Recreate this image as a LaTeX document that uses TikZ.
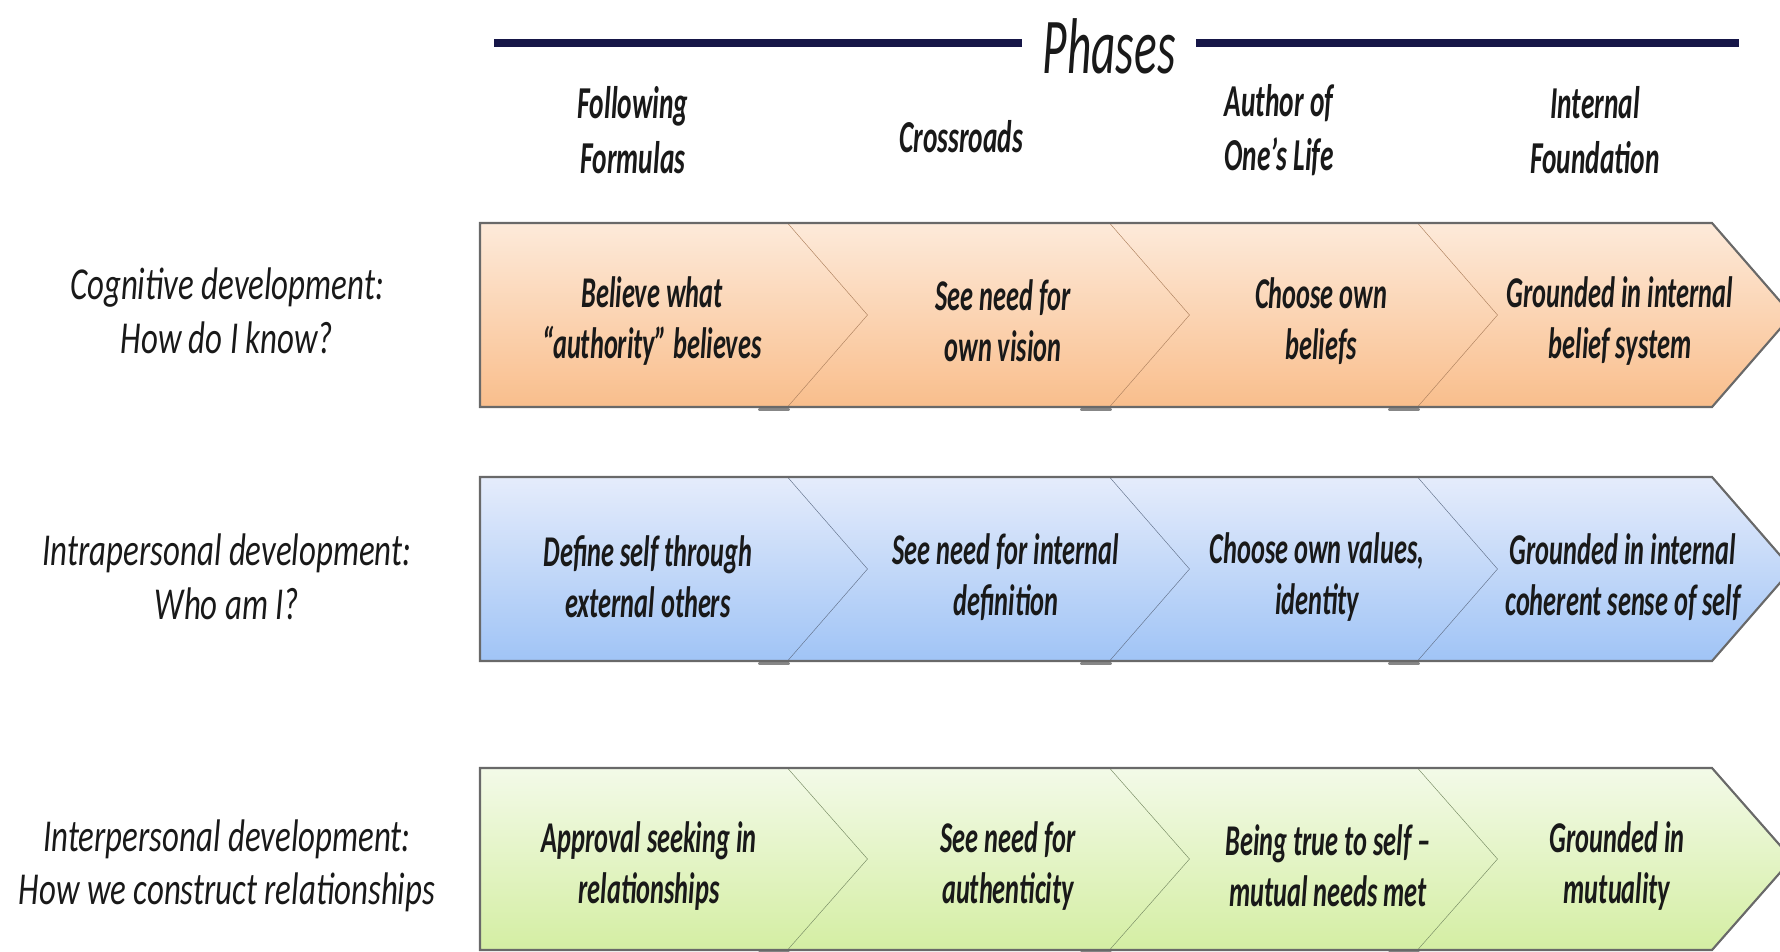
\documentclass[tikz,border=0pt]{standalone}
\usepackage{fontspec}
\usepackage{tikz}
\usetikzlibrary{positioning}
\setmainfont{Carlito}
\newfontfamily\phfont[FakeStretch=0.6]{Carlito}
\newfontfamily\lbfont[FakeStretch=0.72]{Carlito}
\definecolor{phnavy}{RGB}{22,22,72}
\definecolor{phtext}{RGB}{25,25,25}
\definecolor{phedge}{RGB}{105,105,105}
\definecolor{phorangetop}{RGB}{253,234,218}
\definecolor{phorangebot}{RGB}{249,190,140}
\definecolor{phorangeline}{RGB}{175,130,95}
\definecolor{phbluetop}{RGB}{229,236,251}
\definecolor{phbluebot}{RGB}{160,196,246}
\definecolor{phblueline}{RGB}{100,115,140}
\definecolor{phgreentop}{RGB}{243,250,232}
\definecolor{phgreenbot}{RGB}{212,238,163}
\definecolor{phgreenline}{RGB}{120,140,100}
\tikzset{
  phtitle/.style={font=\phfont\itshape\fontsize{45}{49}\selectfont, text=phtext, inner sep=0pt, inner xsep=.4cm},
  phhead/.style={font=\phfont\bfseries\itshape\fontsize{26}{31}\selectfont, text=phtext, align=center, inner sep=0pt},
  phcell/.style={font=\phfont\bfseries\itshape\fontsize{25}{29}\selectfont, text=phtext, align=center, inner sep=0pt},
  phlabel/.style={font=\lbfont\itshape\fontsize{26}{30.5}\selectfont, text=phtext, align=center, inner sep=0pt},
  phrule/.style={line width=4.4pt, draw=phnavy},
  phedgeline/.style={line width=1.2pt, draw=phedge, line join=miter},
  phshadow/.style={line width=2.2pt, draw=phedge!80, line cap=round}
}

\begin{document}
\begin{tikzpicture}[x=.02cm, y=-.02cm]
  \useasboundingbox (0,0) rectangle (1780,951);
  \clip (0,0) rectangle (1780,951);
  \node[phtitle] (phases) at (1109,46) {Phases};
  \coordinate (ruleL) at (494,43);
  \coordinate (ruleR) at (1739,43);
  \draw[phrule] (ruleL) -- (ruleL -| phases.west);
  \draw[phrule] (ruleR -| phases.east) -- (ruleR);
  \node[phhead] (follow) at (633,130) {Following\\Formulas};
  \node[phhead] (cross) at (961,137) {Crossroads};
  \node[phhead] (author) at (1279,130) {Author of\\One’s Life};
  \node[phhead] (found) at (1595,130) {Internal\\Foundation};
  \foreach \T/\B/\c in {223/407/orange, 477/661/blue, 768/950/green} {
    \pgfmathsetmacro\M{(\T+\B)/2}
    \foreach \xa/\xb/\n in {480/788/0, 788/1110/80, 1110/1418/80, 1418/1712/80} {
      \shade[top color=ph\c top, bottom color=ph\c bot]
        (\xa,\T) -- (\xb,\T) -- ({\xb+80},\M) -- (\xb,\B) -- (\xa,\B) -- ({\xa+\n},\M) -- cycle;
      \draw[line width=.7pt, draw=ph\c line] (\xb,\T) -- ({\xb+80},\M) -- (\xb,\B);
    }
    \foreach \xb in {788,1110,1418}
      \draw[phshadow] ({\xb-28},{\B+2.5}) -- (\xb,{\B+2.5});
    \draw[phedgeline] (480,\T) -- (1712,\T) -- (1792,\M) -- (1712,\B) -- (480,\B) -- cycle;
  }
  \node[phlabel] (cogLab) at (227,311) {Cognitive development:\\How do I know?};
  \node[phlabel] (intraLab) at (227,577) {Intrapersonal development:\\Who am I?};
  \node[phlabel] (interLab) at (227,866) {Interpersonal development:\\How we construct relationships};
  \node[phcell] (cog1) at (652,321) {Believe what\\“authority” believes};
  \node[phcell] (cog2) at (1003,321) {See need for\\own vision};
  \node[phcell] (cog3) at (1321,321) {Choose own\\beliefs};
  \node[phcell] (cog4) at (1620,321) {Grounded in internal\\belief system};
  \node[phcell] (intra1) at (648,577) {Define self through\\external others};
  \node[phcell] (intra2) at (1006,577) {See need for internal\\definition};
  \node[phcell] (intra3) at (1317,577) {Choose own values,\\identity};
  \node[phcell] (intra4) at (1623,577) {Grounded in internal\\coherent sense of self};
  \node[phcell] (inter1) at (649,866) {Approval seeking in\\relationships};
  \node[phcell] (inter2) at (1008,866) {See need for\\authenticity};
  \node[phcell] (inter3) at (1328,866) {Being true to self –\\mutual needs met};
  \node[phcell] (inter4) at (1617,866) {Grounded in\\mutuality};
\end{tikzpicture}
\end{document}
